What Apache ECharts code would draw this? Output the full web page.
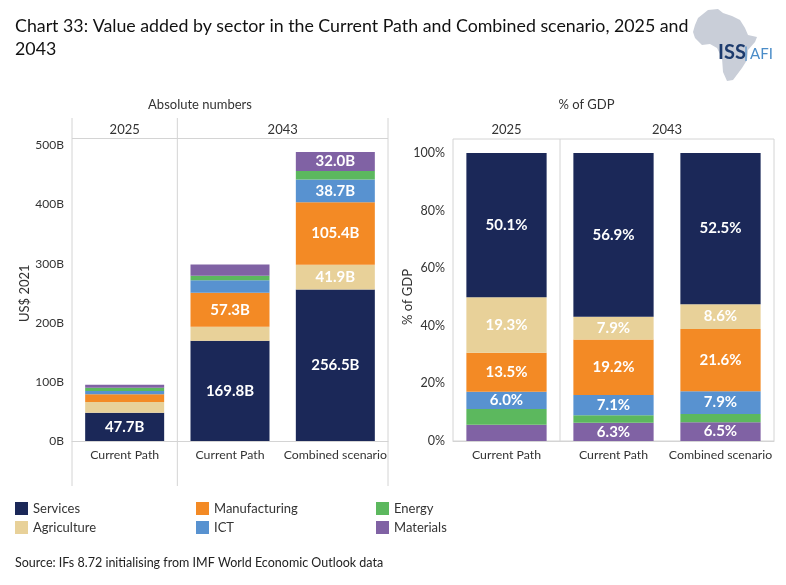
<!DOCTYPE html>
<html>
<head>
<meta charset="utf-8">
<script src="https://cdn.jsdelivr.net/npm/echarts@6/dist/echarts.min.js"></script>
<style>html,body{margin:0;padding:0;background:#fff}#c{width:786px;height:585px}</style>
</head>
<body>
<div id="c"></div>
<script>
// ---- data ----
var categories = ['Current Path', 'Current Path', 'Combined scenario'];
var groups = ['2025', '2043'];
var sectors = ['Services', 'Agriculture', 'Manufacturing', 'ICT', 'Energy', 'Materials'];
// absolute values, US$ billion (2021)
var servicesAbs      = [47.7, 169.8, 256.5];
var agricultureAbs   = [18.4, 23.6, 41.9];
var manufacturingAbs = [12.9, 57.3, 105.4];
var ictAbs           = [5.7, 21.2, 38.7];
var energyAbs        = [5.2, 7.8, 14.3];
var materialsAbs     = [5.3, 18.8, 32.0];
// share of GDP, %
var servicesPct      = [50.1, 56.9, 52.5];
var agriculturePct   = [19.3, 7.9, 8.6];
var manufacturingPct = [13.5, 19.2, 21.6];
var ictPct           = [6.0, 7.1, 7.9];
var energyPct        = [5.5, 2.6, 2.9];
var materialsPct     = [5.6, 6.3, 6.5];
var absTicks = [0, 100, 200, 300, 400, 500];
var pctTicks = [0, 20, 40, 60, 80, 100];

// ---- style ----
var FONT = 'Lato, "Open Sans", sans-serif';
var colors = {
  Services: '#1b2858', Agriculture: '#e8d199', Manufacturing: '#f38a25',
  ICT: '#5892d0', Energy: '#5cb85e', Materials: '#8062a4'
};
var lineCol = '#d4d4d4';
var txtCol = '#333333';

// grid layout (pixels)
var G0 = {left: 72, top: 145.5, width: 316, bottom: 441};
var G1 = {left: 453, top: 153, width: 321, bottom: 441};

var chart = echarts.init(document.getElementById('c'), null, {renderer: 'canvas'});

function labelAbs(p) { return p.value >= 30 ? p.value.toFixed(1) + 'B' : ''; }
function labelPct(p) { return p.value >= 5.95 ? p.value.toFixed(1) + '%' : ''; }

function mkSeries(name, data, idx, fmt, stack) {
  return {
    name: name, type: 'bar', stack: stack, data: data,
    xAxisIndex: idx, yAxisIndex: idx, barWidth: '75%',
    itemStyle: {color: colors[name]},
    label: {show: true, position: 'inside', color: '#fff', fontWeight: 'bold',
            fontSize: 15, fontFamily: FONT, formatter: fmt},
    emphasis: {disabled: true}
  };
}

var absMap = {Services: servicesAbs, Agriculture: agricultureAbs, Manufacturing: manufacturingAbs,
              ICT: ictAbs, Energy: energyAbs, Materials: materialsAbs};
var pctMap = {Services: servicesPct, Agriculture: agriculturePct, Manufacturing: manufacturingPct,
              ICT: ictPct, Energy: energyPct, Materials: materialsPct};

var series = [];
sectors.forEach(function (s) { series.push(mkSeries(s, absMap[s], 0, labelAbs, 'abs')); });
sectors.slice().reverse().forEach(function (s) { series.push(mkSeries(s, pctMap[s], 1, labelPct, 'pct')); });

function xAx(idx) {
  return {
    type: 'category', gridIndex: idx, data: categories,
    axisLine: {lineStyle: {color: lineCol}}, axisTick: {show: false},
    axisLabel: {color: txtCol, fontSize: 12.3, fontFamily: FONT, margin: 8, interval: 0}
  };
}

var line = function (x1, y1, x2, y2) {
  return {type: 'line', silent: true, shape: {x1: x1, y1: y1, x2: x2, y2: y2},
          style: {stroke: lineCol, lineWidth: 1}};
};
var txt = function (x, y, t, opt) {
  var st = {text: t, x: x, y: y, fill: txtCol, font: '13px ' + FONT, align: 'center', verticalAlign: 'middle'};
  for (var k in (opt || {})) st[k] = opt[k];
  return {type: 'text', silent: true, style: st};
};

var c0 = G0.width / 3, c1 = G1.width / 3;
var graphics = [
  // left panel frame
  line(G0.left, 118, G0.left, 486),
  line(G0.left + c0, 118, G0.left + c0, 486),
  line(G0.left + G0.width, 118, G0.left + G0.width, 486),
  line(G0.left, 138.5, G0.left + G0.width, 138.5),
  txt(G0.left + c0 / 2, 130, groups[0]),
  txt(G0.left + c0 * 2, 130, groups[1]),
  txt(G0.left + G0.width / 2 - 30, 105, 'Absolute numbers'),
  // right panel frame
  {type: 'rect', silent: true, shape: {x: G1.left, y: 139, width: G1.width, height: G1.bottom - 139},
   style: {fill: 'none', stroke: lineCol, lineWidth: 1}},
  line(G1.left + c1, 139, G1.left + c1, G1.bottom),
  txt(G1.left + c1 / 2, 130, groups[0]),
  txt(G1.left + c1 * 2, 130, groups[1]),
  txt(G1.left + G1.width / 2 - 27, 105, '% of GDP'),
  // source
  txt(15, 563, 'Source: IFs 8.72 initialising from IMF World Economic Outlook data',
      {align: 'left', font: '12.5px ' + FONT, fill: '#222'}),
  // logo
  {type: 'polygon', silent: true,
   shape: {points: [[695,25],[698,18],[708,10],[718,9],[723,13],[732,16],[740,20],[745,28],[748,35],
                    [757,37],[755,42],[748,50],[747,60],[742,68],[733,80],[727,81],[723,72],[722,58],
                    [717,48],[710,44],[702,45],[695,38],[693,32]]},
   style: {fill: '#c9ced8'}},
  txt(718, 53, 'ISS', {align: 'left', font: 'bold 20px "Liberation Sans Narrow", ' + FONT, fill: '#1d3b6d'}),
  txt(744, 53, '|', {align: 'left', font: '16px ' + FONT, fill: '#4a8cc8'}),
  txt(750, 54, 'AFI', {align: 'left', font: '15px "Liberation Sans Narrow", ' + FONT, fill: '#4a8cc8'})
];

function mkLegend(names, left) {
  return {
    data: names, left: left, top: 502, orient: 'vertical', itemGap: 6, padding: 0,
    itemWidth: 13, itemHeight: 13, icon: 'rect',
    textStyle: {color: txtCol, fontSize: 13, fontFamily: FONT, padding: [2, 0, 0, 0]},
    selectedMode: false
  };
}

chart.setOption({
  backgroundColor: '#fff',
  animation: false,
  textStyle: {fontFamily: FONT},
  title: {
    text: 'Chart 33: Value added by sector in the Current Path and Combined scenario, 2025 and\n2043',
    left: 10, top: 10,
    textStyle: {fontSize: 17.8, fontWeight: 'normal', color: '#111', lineHeight: 23, fontFamily: FONT}
  },
  legend: [
    mkLegend(['Services', 'Agriculture'], 15),
    mkLegend(['Manufacturing', 'ICT'], 196),
    mkLegend(['Energy', 'Materials'], 376)
  ],
  grid: [
    {left: G0.left, top: G0.top, width: G0.width, bottom: 585 - G0.bottom},
    {left: G1.left, top: G1.top, width: G1.width, bottom: 585 - G1.bottom}
  ],
  xAxis: [xAx(0), xAx(1)],
  yAxis: [
    {type: 'value', gridIndex: 0, min: absTicks[0], max: absTicks[absTicks.length - 1], interval: 100,
     name: 'US$ 2021', nameLocation: 'middle', nameGap: 41, nameMoveOverlap: false,
     nameTextStyle: {color: txtCol, fontSize: 13, fontFamily: FONT},
     axisLine: {show: false}, axisTick: {show: false}, splitLine: {show: false},
     axisLabel: {color: txtCol, fontSize: 12, fontFamily: FONT, margin: 8,
                 formatter: function (v) { return v + 'B'; }}},
    {type: 'value', gridIndex: 1, min: pctTicks[0], max: pctTicks[pctTicks.length - 1], interval: 20,
     name: '% of GDP', nameLocation: 'middle', nameGap: 39, nameMoveOverlap: false,
     nameTextStyle: {color: txtCol, fontSize: 13, fontFamily: FONT},
     axisLine: {show: false}, axisTick: {show: false}, splitLine: {show: false},
     axisLabel: {color: txtCol, fontSize: 12.5, fontFamily: FONT, margin: 8,
                 formatter: function (v) { return v + '%'; }}}
  ],
  graphic: graphics,
  series: series
});
</script>
</body>
</html>
